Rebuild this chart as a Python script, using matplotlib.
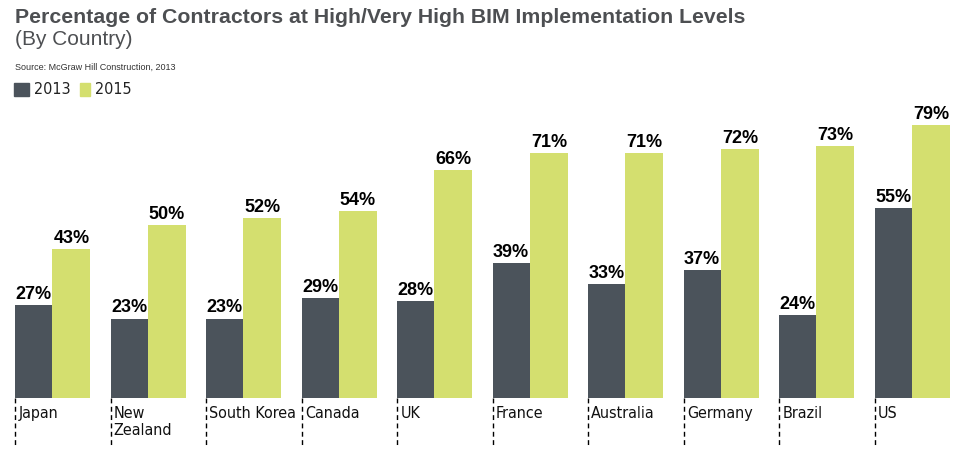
import matplotlib.pyplot as plt
from matplotlib.patches import Rectangle

countries = ["Japan", "New\nZealand", "South Korea", "Canada", "UK",
             "France", "Australia", "Germany", "Brazil", "US"]
pct_2013 = [27, 23, 23, 29, 28, 39, 33, 37, 24, 55]
pct_2015 = [43, 50, 52, 54, 66, 71, 71, 72, 73, 79]

dark = "#4b535b"
green = "#d4df6f"
cond = dict(family="DejaVu Sans", fontstretch="condensed")

fig = plt.figure(figsize=(9.8, 4.71), dpi=100)
# axes placed in pixel terms: baseline at y=398, group pitch 95.5 px
ax = fig.add_axes([15 / 980, 73 / 471, 955 / 980, 398 / 471])
ax.set_xlim(0, 10)
ax.set_ylim(0, 115.2)
ax.axis("off")

w = 0.39
x = list(range(len(countries)))
ax.bar([i for i in x], pct_2013, width=w, align="edge", color=dark)
ax.bar([i + w for i in x], pct_2015, width=w + 0.01, align="edge", color=green)

for i in x:
    ax.text(i + w / 2, pct_2013[i] + 0.6, f"{pct_2013[i]}%", ha="center", va="bottom",
            fontsize=13, fontweight="bold", family="Liberation Sans", color="black")
    ax.text(i + w + 0.2, pct_2015[i] + 0.6, f"{pct_2015[i]}%", ha="center", va="bottom",
            fontsize=13, fontweight="bold", family="Liberation Sans", color="black")
    # dashed divider below each group
    ax.plot([i, i], [0, -14], ls=(0, (3.5, 2.5)), color="black", lw=1, clip_on=False)
    ax.text(i + 0.035, -2.2, countries[i], ha="left", va="top", fontsize=11.5,
            color="#111111", linespacing=1.2, **cond)

fig.text(15 / 980, 1 - 8 / 471, "Percentage of Contractors at High/Very High BIM Implementation Levels",
         ha="left", va="top", fontsize=15.3, fontweight="bold", family="Liberation Sans", color="#4d4f52")
fig.text(15 / 980, 1 - 30 / 471, "(By Country)", ha="left", va="top", fontsize=15,
         family="Liberation Sans", color="#4d4f52")
fig.text(15 / 980, 1 - 63 / 471, "Source: McGraw Hill Construction, 2013", ha="left", va="top",
         fontsize=6.5, family="Liberation Sans", color="#333333")

# legend
for x0, sw, col, lab in [(14, 15, dark, "2013"), (80, 10, green, "2015")]:
    fig.patches.append(Rectangle((x0 / 980, 1 - 96 / 471), sw / 980, 13 / 471,
                                 transform=fig.transFigure, color=col))
    fig.text((x0 + sw + 5) / 980, 1 - 89.5 / 471, lab, ha="left", va="center", fontsize=11.5,
             color="#222222", **cond)

fig.savefig("out.png", dpi=100)
